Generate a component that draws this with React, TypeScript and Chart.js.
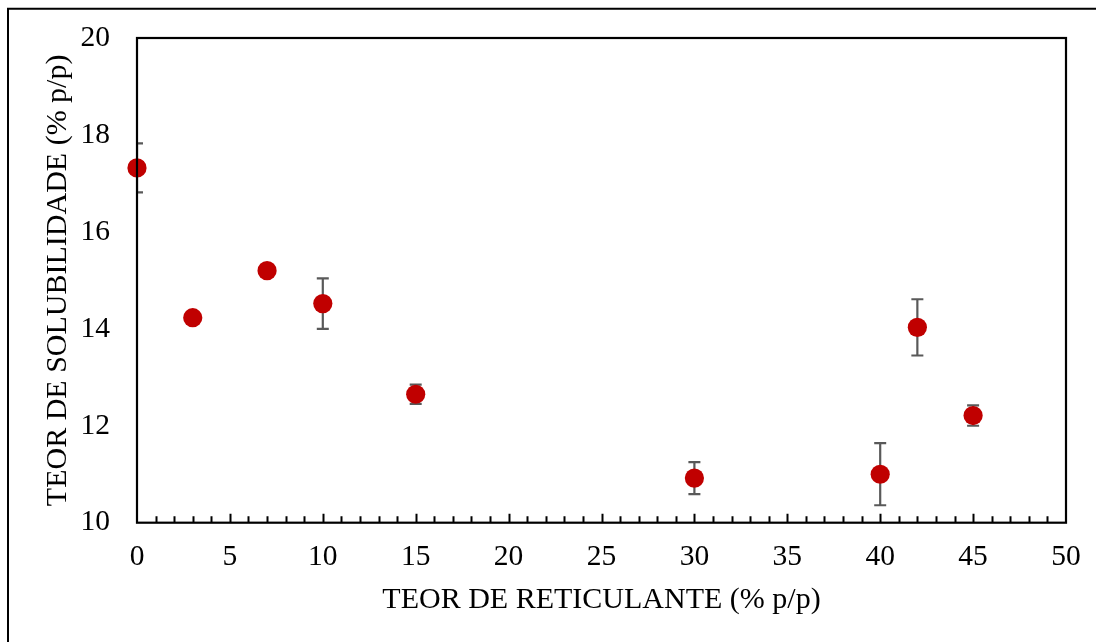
import React, { useEffect, useRef } from "react";
import { Chart, registerables } from "chart.js";

Chart.register(...registerables);

// Teor de reticulante (% p/p)
const reticulante = [0, 3, 7, 10, 15, 30, 40, 42, 45];
// Teor de solubilidade médio (% p/p)
const solubilidade = [17.32, 14.23, 15.2, 14.52, 12.65, 10.92, 11.0, 14.03, 12.21];
// Desvio padrão de cada ponto
const desvio = [0.505, 0.08, 0.08, 0.52, 0.2, 0.33, 0.64, 0.58, 0.21];

const xTicks = [0, 5, 10, 15, 20, 25, 30, 35, 40, 45, 50];
const yTicks = [10, 12, 14, 16, 18, 20];

const FONT = "'Liberation Serif', 'Times New Roman', serif";

// Moldura externa, caixa da área de plotagem e marcas de escala internas do eixo X
const framePlugin = {
  id: "frame",
  beforeDraw(chart: any) {
    const { ctx, width, height } = chart;
    ctx.save();
    ctx.fillStyle = "#ffffff";
    ctx.fillRect(0, 0, width, height);
    ctx.strokeStyle = "#000000";
    ctx.lineWidth = 2;
    ctx.beginPath();
    ctx.moveTo(8, height + 2);
    ctx.lineTo(8, 8.75);
    ctx.lineTo(width + 2, 8.75);
    ctx.stroke();
    ctx.restore();
  },
  afterDraw(chart: any) {
    const { ctx, chartArea } = chart;
    const x = chart.scales.x;
    ctx.save();
    ctx.strokeStyle = "#000000";
    ctx.lineWidth = 2;
    // marcas menores a cada 1 unidade, maiores a cada 5
    ctx.beginPath();
    for (let v = 1; v < 50; v++) {
      const px = Math.round(x.getPixelForValue(v)) + 0.5;
      const len = v % 5 === 0 ? 9 : 6.5;
      ctx.moveTo(px, chartArea.bottom);
      ctx.lineTo(px, chartArea.bottom - len);
    }
    ctx.stroke();
    ctx.lineWidth = 2.2;
    ctx.strokeRect(chartArea.left, chartArea.top, chartArea.right - chartArea.left, chartArea.bottom - chartArea.top);
    ctx.restore();
  },
};

// Barras de erro (±desvio), desenhadas por baixo dos marcadores
const errorBarPlugin = {
  id: "errorBars",
  beforeDatasetsDraw(chart: any) {
    const { ctx, chartArea } = chart;
    const xs = chart.scales.x;
    const ys = chart.scales.y;
    ctx.save();
    ctx.beginPath();
    ctx.rect(chartArea.left, chartArea.top, chartArea.right - chartArea.left, chartArea.bottom - chartArea.top);
    ctx.clip();
    ctx.strokeStyle = "#595959";
    ctx.lineWidth = 2.2;
    const cap = 6;
    reticulante.forEach((xv, i) => {
      const px = xs.getPixelForValue(xv);
      const top = ys.getPixelForValue(solubilidade[i] + desvio[i]);
      const bot = ys.getPixelForValue(solubilidade[i] - desvio[i]);
      ctx.beginPath();
      ctx.moveTo(px, top);
      ctx.lineTo(px, bot);
      ctx.moveTo(px - cap, top);
      ctx.lineTo(px + cap, top);
      ctx.moveTo(px - cap, bot);
      ctx.lineTo(px + cap, bot);
      ctx.stroke();
    });
    ctx.restore();
  },
};

// Remove o recuo automático que as escalas pedem para os rótulos das pontas
const noScalePadding = (s: any) => {
  s.paddingTop = 0;
  s.paddingBottom = 0;
  s.paddingLeft = 0;
  s.paddingRight = 0;
};

export default function App() {
  const canvasRef = useRef<HTMLCanvasElement | null>(null);

  useEffect(() => {
    const canvas = canvasRef.current;
    if (!canvas) return;
    const chart = new Chart(canvas, {
      type: "scatter",
      data: {
        datasets: [
          {
            label: "Solubilidade",
            data: reticulante.map((x, i) => ({ x, y: solubilidade[i] })),
            backgroundColor: "#C00000",
            borderColor: "#C00000",
            borderWidth: 0,
            pointRadius: 9.6,
            pointHoverRadius: 9.6,
            clip: false as any,
          },
        ],
      },
      options: {
        animation: false,
        responsive: false,
        devicePixelRatio: 1,
        layout: { padding: { left: 0, top: 38, right: 30, bottom: 0 } },
        plugins: {
          legend: { display: false },
          tooltip: { enabled: false },
        },
        scales: {
          x: {
            type: "linear",
            min: 0,
            max: 50,
            afterBuildTicks: (s: any) => {
              s.ticks = xTicks.map((v) => ({ value: v }));
            },
            afterFit: (s: any) => {
              s.height = 119.3;
              noScalePadding(s);
            },
            grid: { display: false, drawTicks: false },
            border: { display: false },
            ticks: {
              color: "#000000",
              padding: 17,
              maxRotation: 0,
              font: { family: FONT, size: 29.5 },
            },
            title: {
              display: true,
              text: "TEOR DE RETICULANTE (% p/p)",
              color: "#000000",
              font: { family: FONT, size: 30 },
              padding: { top: 0, bottom: 24 },
            },
          },
          y: {
            type: "linear",
            min: 10,
            max: 20,
            afterBuildTicks: (s: any) => {
              s.ticks = yTicks.map((v) => ({ value: v }));
            },
            afterFit: (s: any) => {
              s.width = 137;
              noScalePadding(s);
            },
            grid: { display: false, drawTicks: false },
            border: { display: false },
            ticks: {
              color: "#000000",
              padding: 27,
              font: { family: FONT, size: 29.5 },
            },
            title: {
              display: true,
              text: "TEOR DE SOLUBILIDADE (% p/p)",
              color: "#000000",
              font: { family: FONT, size: 30 },
              padding: { top: 40, bottom: 0 },
            },
          },
        },
      },
      plugins: [framePlugin, errorBarPlugin],
    });
    return () => chart.destroy();
  }, []);

  return (
    <div style={{ position: "fixed", left: 0, top: 0, width: 1096, height: 642, background: "#fff" }}>
      <canvas ref={canvasRef} width={1096} height={642} style={{ display: "block", width: 1096, height: 642 }} />
    </div>
  );
}
